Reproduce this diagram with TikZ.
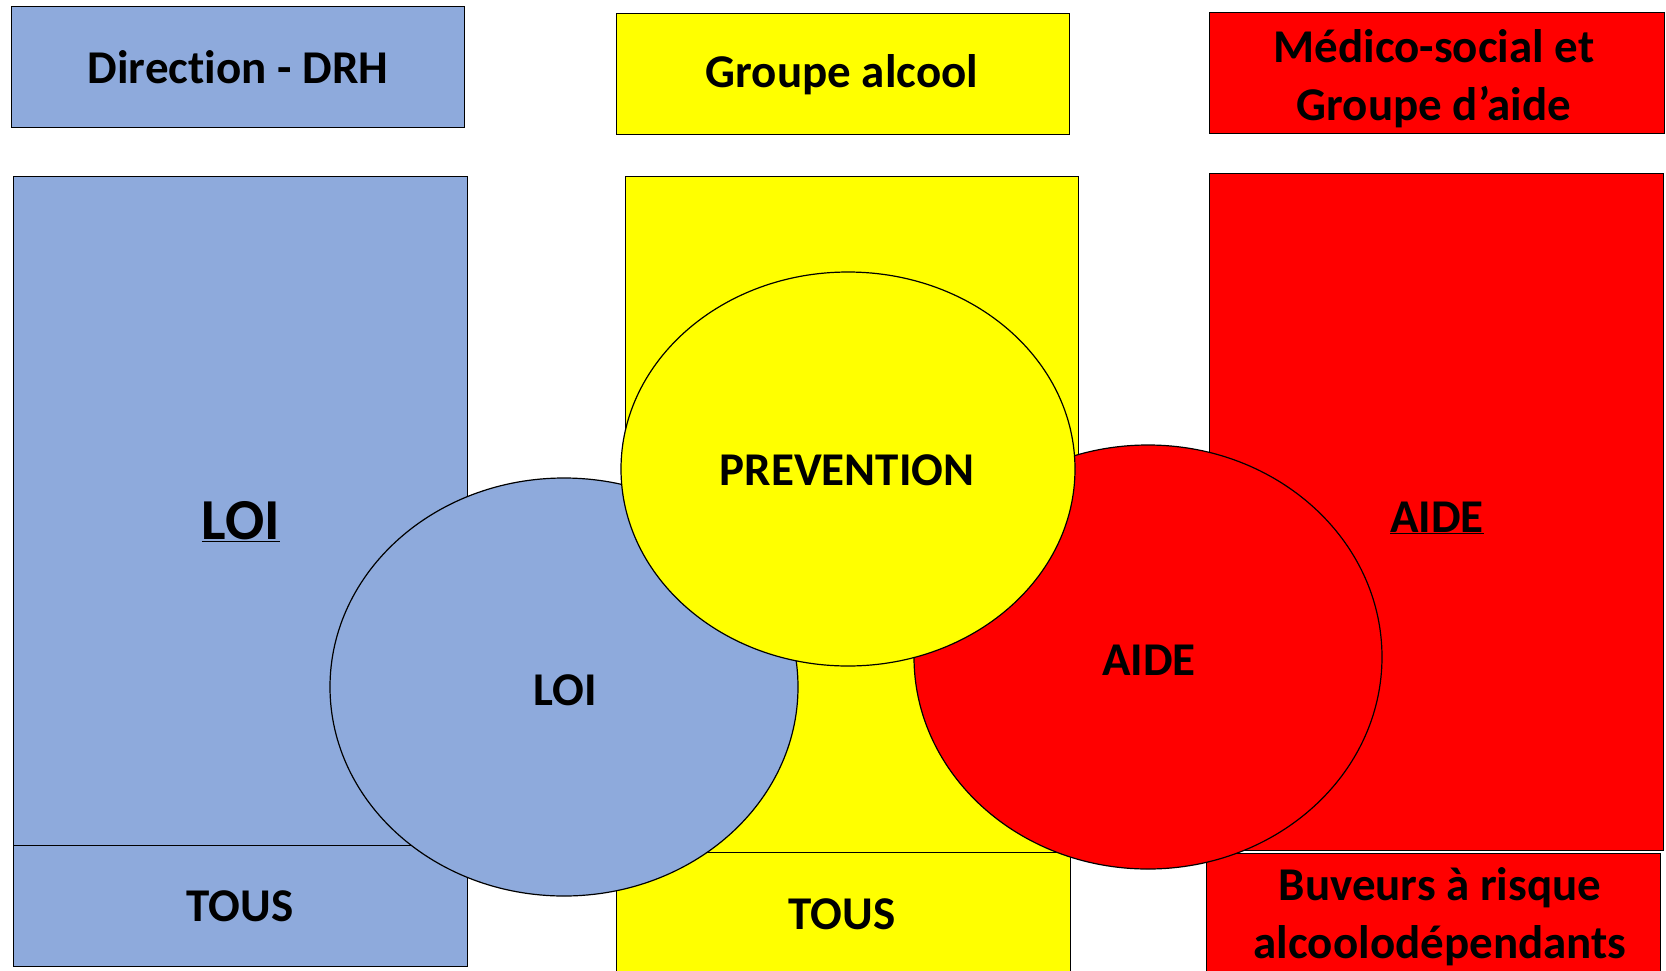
\documentclass[tikz,border=0pt]{standalone}
\usepackage{fontspec}
\setmainfont{Carlito}[Ligatures=NoCommon]
\usetikzlibrary{shapes.geometric}
\definecolor{cblue}{RGB}{142,170,220}
\definecolor{cyel}{RGB}{255,255,0}
\definecolor{cred}{RGB}{255,0,0}
\tikzset{
  box/.style={draw=black, line width=1.3pt, inner sep=0pt, anchor=north west},
  oval/.style={draw=black, line width=1.2pt, ellipse, inner sep=0pt},
  txt/.style={font=\fontsize{47}{58}\selectfont\bfseries, align=center, inner sep=0pt, text=black},
  bigtxt/.style={font=\fontsize{58}{66}\selectfont\bfseries, align=center, inner sep=0pt}
}
\begin{document}
\begin{tikzpicture}[x=1pt,y=-1pt]
\useasboundingbox (0,0) rectangle (1666,970);
% top header boxes
\node[box, fill=cblue, minimum width=453, minimum height=121] (dir) at (11,6) {};
\node[box, fill=cyel, minimum width=453, minimum height=121] (grp) at (616,13) {};
\node[box, fill=cred, minimum width=455, minimum height=121] (med) at (1209,12) {};
% big columns
\node[box, fill=cblue, minimum width=454, minimum height=674] (colb) at (13,176) {};
\node[box, fill=cyel, minimum width=453, minimum height=676] (coly) at (625,176) {};
\node[box, fill=cred, minimum width=454, minimum height=677] (colr) at (1209,173) {};
% bottom boxes
\node[box, fill=cblue, minimum width=454, minimum height=121] (tousb) at (13,845) {};
\node[box, fill=cyel, minimum width=454, minimum height=130] (tousy) at (616,852) {};
\node[box, fill=cred, minimum width=454, minimum height=130] (buv) at (1206,853) {};
% ellipses
\node[oval, fill=cblue, minimum width=468, minimum height=418] (loic) at (564,687) {};
\node[oval, fill=cred, minimum width=468, minimum height=424] (aidec) at (1148,657) {};
\node[oval, fill=cyel, minimum width=454, minimum height=394] (prev) at (848,469) {};
% texts
\node[txt] (tdir) at (238,67) {Direction - DRH};
\node[txt] (tgrp) at (842,75) {Groupe alcool};
\node[txt] (tmed) at (1434,79) {M\'edico-social et\\Groupe d’aide};
\node[bigtxt] (tloi) at (241,522) {\underline{LOI}};
\node[txt] (taide) at (1437,518) {\underline{AIDE}};
\node[txt] (tprev) at (847,470) {PREVENTION};
\node[txt] (tloic) at (565,690) {LOI};
\node[txt] (taidec) at (1149,660) {AIDE};
\node[txt] (ttousb) at (240,906) {TOUS};
\node[txt] (ttousy) at (842,914) {TOUS};
\node[txt] (tbuv) at (1440,917) {Buveurs \`a risque\\alcoolod\'ependants};
\end{tikzpicture}
\end{document}
